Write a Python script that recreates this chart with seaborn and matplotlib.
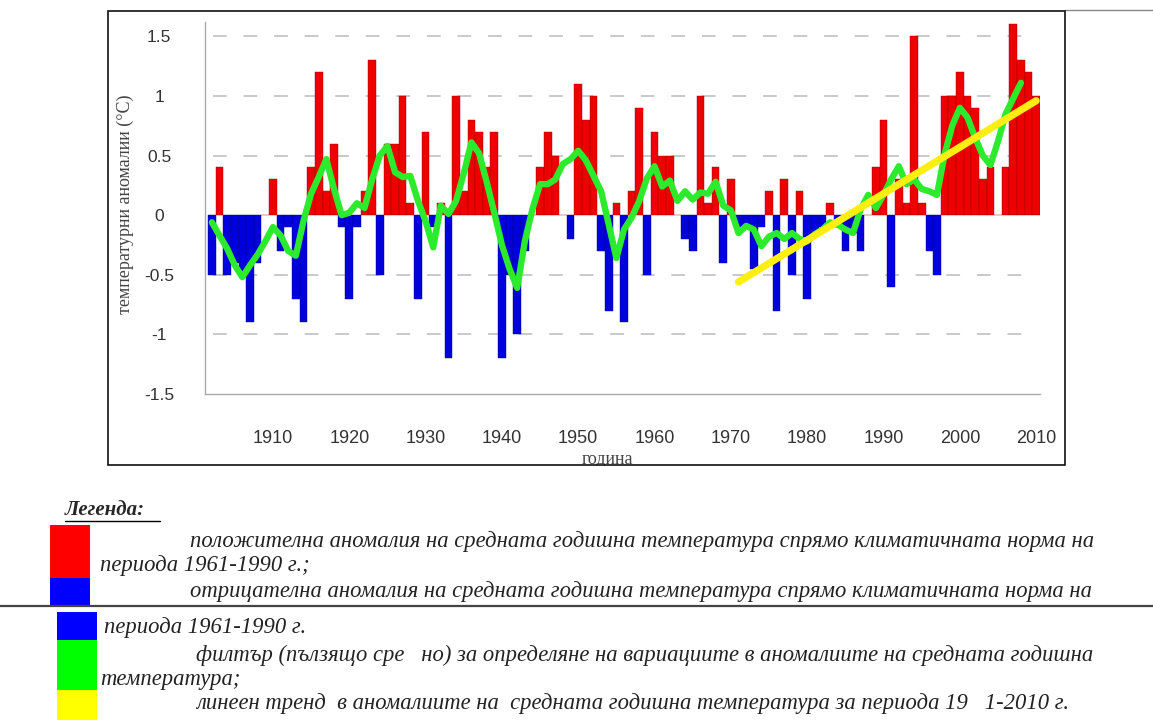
import matplotlib
matplotlib.use("Agg")
import matplotlib.pyplot as plt
import matplotlib.patches as mpatches
import matplotlib.lines as mlines
import numpy as np
import pandas as pd
import seaborn as sns

# annual temperature anomalies (deg C), 1902-2010
years = np.arange(1902, 2011)
anomalies = [
    -0.5, 0.4, -0.5, -0.4, -0.5, -0.9, -0.4, 0.0,            # 1902-1909
    0.3, -0.3, -0.1, -0.7, -0.9, 0.4, 1.2, 0.2, 0.6, -0.1,   # 1910-1919
    -0.7, -0.1, 0.2, 1.3, -0.5, 0.6, 0.6, 1.0, 0.1, -0.7,    # 1920-1929
    0.7, -0.1, 0.1, -1.2, 1.0, 0.2, 0.8, 0.7, 0.4, 0.7,      # 1930-1939
    -1.2, -0.5, -1.0, -0.3, 0.0, 0.4, 0.7, 0.5, 0.0, -0.2,   # 1940-1949
    1.1, 0.8, 1.0, -0.3, -0.8, 0.1, -0.9, 0.2, 0.9, -0.5,    # 1950-1959
    0.7, 0.5, 0.5, 0.0, -0.2, -0.3, 1.0, 0.1, 0.4, -0.4,     # 1960-1969
    0.3, -0.1, -0.1, -0.45, -0.1, 0.2, -0.8, 0.3, -0.5, 0.2, # 1970-1979
    -0.7, -0.15, -0.1, 0.1, -0.1, -0.3, -0.15, -0.3, 0.0, 0.4,  # 1980-1989
    0.8, -0.6, 0.3, 0.1, 1.5, 0.1, -0.3, -0.5, 1.0, 1.0,     # 1990-1999
    1.2, 1.0, 0.9, 0.3, 0.4, 0.0, 0.4, 1.6, 1.3, 1.2,        # 2000-2009
    1.0,                                                     # 2010
]

# running mean filter, 1902-2008
filter_years = np.arange(1902, 2009)
filter_vals = [
    -0.06, -0.17, -0.28, -0.42, -0.52, -0.42, -0.33, -0.22,
    -0.10, -0.17, -0.30, -0.34, -0.05, 0.18, 0.32, 0.47, 0.22, 0.00,
    0.02, 0.10, 0.06, 0.30, 0.50, 0.58, 0.36, 0.32, 0.33, 0.12,
    -0.05, -0.27, 0.08, 0.01, 0.12, 0.35, 0.61, 0.52, 0.28, 0.02,
    -0.25, -0.45, -0.61, -0.22, 0.05, 0.26, 0.26, 0.30, 0.43, 0.47,
    0.54, 0.46, 0.33, 0.20, -0.08, -0.36, -0.12, -0.02, 0.12, 0.31,
    0.41, 0.24, 0.29, 0.12, 0.20, 0.13, 0.19, 0.18, 0.28, 0.08,
    0.04, -0.15, -0.09, -0.12, -0.26, -0.18, -0.15, -0.20, -0.15, -0.20,
    -0.22, -0.16, -0.12, -0.06, -0.08, -0.12, -0.15, 0.05, 0.17, 0.06,
    0.17, 0.30, 0.41, 0.26, 0.30, 0.22, 0.20, 0.17, 0.51, 0.75,
    0.90, 0.82, 0.65, 0.50, 0.42, 0.62, 0.85, 0.98, 1.11,
]

# linear trend 1971-2010
trend_years = [1971, 2010]
trend_vals = [-0.56, 0.96]

yticks = [-1.5, -1, -0.5, 0, 0.5, 1, 1.5]
ytick_labels = ["-1.5", "-1", "-0.5", "0", "0.5", "1", "1.5"]
xticks = list(range(1910, 2011, 10))

legend_lines = [
    "положителна аномалия на средната годишна температура спрямо климатичната норма на",
    "периода 1961-1990 г.;",
    "отрицателна аномалия на средната годишна температура спрямо климатичната норма на",
    "периода 1961-1990 г.",
    "филтър (пълзящо сре   но) за определяне на вариациите в аномалиите на средната годишна",
    "температура;",
    "линеен тренд  в аномалиите на  средната годишна температура за периода 19   1-2010 г.",
]

RED, BLUE, GREEN, YELLOW = "#EE0000", "#0000DD", "#2CEA2C", "#FFEE11"

W, H = 1153, 720


def fx(px):
    return px / W


def fy(py):
    return 1 - py / H


sns.set_style("white")
plt.rcParams['font.family'] = ['Liberation Sans', 'DejaVu Sans']

fig = plt.figure(figsize=(W / 100, H / 100), dpi=100)
ax = fig.add_axes([fx(205), fy(394), (1040 - 205) / W, (394 - 22) / H])

df = pd.DataFrame({"year": years, "anom": anomalies})
df["sign"] = np.where(df["anom"] >= 0, "pos", "neg")

# dashed grid
for yv in [-1, -0.5, 0.5, 1, 1.5]:
    ax.axhline(yv, xmin=0.01, xmax=0.98, color="#BBBBBB", lw=1.1,
               dashes=(9, 11), zorder=0)

sns.barplot(data=df, x="year", y="anom", hue="sign",
            palette={"pos": RED, "neg": BLUE}, native_scale=True,
            width=1.0, dodge=False, legend=False, saturation=1,
            errorbar=None, edgecolor="#990000", linewidth=0.3, ax=ax)
for bar in ax.patches:
    if bar.get_height() < 0:
        bar.set_edgecolor("#000088")

sns.lineplot(x=filter_years, y=filter_vals, color=GREEN, lw=4.6,
             solid_capstyle="round", solid_joinstyle="round", ax=ax, zorder=4)
sns.lineplot(x=trend_years, y=trend_vals, color=YELLOW, lw=5.2,
             solid_capstyle="round", ax=ax, zorder=5)

ax.set_xlim(1901.1, 2010.5)
ax.set_ylim(-1.5, 1.62)
ax.set_xticks(xticks)
ax.set_xticks(list(range(1905, 2010, 10)), minor=True)
ax.set_xticklabels([str(x) for x in xticks])
ax.set_yticks(yticks)
ax.set_yticklabels(ytick_labels, ha="center")
ax.tick_params(axis="x", which="major", length=14, width=1, color="#999999",
               pad=12, labelsize=13, labelcolor="#333333")
ax.tick_params(axis="x", which="minor", length=8, width=1, color="#999999")
ax.tick_params(axis="y", length=16, width=1, color="#AAAAAA", pad=17,
               labelsize=12.5, labelcolor="#333333")
for side in ["top", "right"]:
    ax.spines[side].set_visible(False)
for side in ["left", "bottom"]:
    ax.spines[side].set_color("#AAAAAA")
    ax.spines[side].set_linewidth(1)
ax.set_xlabel("")
ax.set_ylabel("температурни аномалии (°С)", family="Liberation Serif",
              fontsize=13, color="#444444")
ax.yaxis.set_label_coords(-0.085, 0.51)

# x label, partly hidden by the frame edge
fig.text(fx(607), fy(460), "година", family="Liberation Serif", fontsize=13,
         color="#444444", ha="center", va="center", zorder=1)
fig.patches.append(mpatches.Rectangle((fx(100), fy(478)), fx(980), 12 / H,
                                      transform=fig.transFigure,
                                      facecolor="white", edgecolor="none",
                                      zorder=2))
# chart frame
fig.patches.append(mpatches.Rectangle((fx(108), fy(465)), fx(1065 - 108),
                                      (465 - 11) / H, transform=fig.transFigure,
                                      facecolor="none", edgecolor="#111111",
                                      lw=1.2, zorder=3))
fig.lines.append(mlines.Line2D([fx(1065), 1], [fy(10), fy(10)],
                               transform=fig.transFigure, color="#888888",
                               lw=1))
fig.lines.append(mlines.Line2D([0, 1], [fy(606), fy(606)],
                               transform=fig.transFigure, color="#444444",
                               lw=1.6))

# legend block
fig.text(fx(65), fy(510), "Легенда:", family="Liberation Serif", style="italic",
         weight="bold", fontsize=15, ha="left", va="center")
fig.lines.append(mlines.Line2D([fx(65), fx(160)], [fy(521), fy(521)],
                               transform=fig.transFigure, color="black", lw=1))

squares = [
    (50, 525, 578, "#FF0000"),
    (50, 578, 606, "#0000FF"),
    (57, 612, 640, "#0000FF"),
    (57, 640, 690, "#00FF00"),
    (57, 690, 720, "#FFFF00"),
]
for x0, y0, y1, col in squares:
    fig.patches.append(mpatches.Rectangle((fx(x0), fy(y1)), fx(40),
                                          (y1 - y0) / H,
                                          transform=fig.transFigure,
                                          facecolor=col, edgecolor="none"))

text_pos = [(190, 541), (100, 565), (190, 591), (104, 628),
            (196, 655), (100, 680), (196, 703)]
for (tx, ty), line in zip(text_pos, legend_lines):
    fig.text(fx(tx), fy(ty), line, family="Liberation Serif", style="italic",
             fontsize=16.3, color="#222222", ha="left", va="center")

fig.savefig("out.png", dpi=100)
